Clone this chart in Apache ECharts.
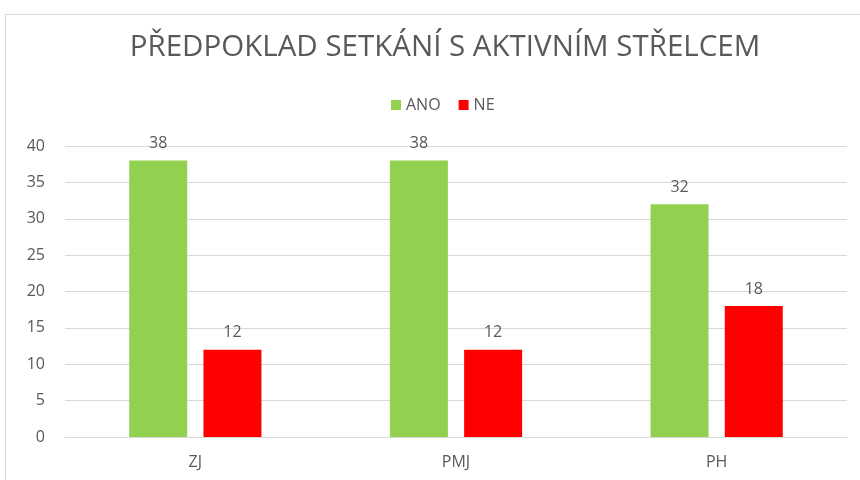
<!DOCTYPE html>
<html>
<head>
<meta charset="utf-8">
<script src="https://cdn.jsdelivr.net/npm/echarts@6/dist/echarts.min.js"></script>
<style>
  html, body { margin: 0; padding: 0; background: #fff; }
  #chart { width: 860px; height: 480px; }
</style>
</head>
<body>
<div id="chart"></div>
<script>
const categories = ['ZJ', 'PMJ', 'PH']
const anoValues = [38, 38, 32]
const neValues = [12, 12, 18]
const yTicks = { min: 0, max: 40, interval: 5 }

const chart = echarts.init(document.getElementById('chart'))
const font = '"Open Sans", "Noto Sans", sans-serif'
const textColor = '#595959'

const labelStyle = { show: true, position: 'top', distance: 9, color: textColor, fontSize: 16, fontFamily: font }

chart.setOption({
  animation: false,
  textStyle: { fontFamily: font },
  graphic: [{
    type: 'rect',
    shape: { x: 5.5, y: 14.5, width: 870, height: 480 },
    style: { fill: 'none', stroke: '#d9d9d9', lineWidth: 1 },
    silent: true
  }],
  title: {
    text: 'PŘEDPOKLAD SETKÁNÍ S AKTIVNÍM STŘELCEM',
    left: 440,
    textAlign: 'center',
    top: 28,
    textStyle: { color: textColor, fontSize: 29.5, fontWeight: 'normal', fontFamily: font }
  },
  legend: {
    top: 92,
    left: 386,
    itemWidth: 10,
    itemHeight: 10,
    itemGap: 18,
    icon: 'rect',
    textStyle: { color: textColor, fontSize: 16, fontFamily: font },
    data: ['ANO', 'NE']
  },
  grid: { left: 65, right: 13, top: 146, bottom: 43 },
  xAxis: {
    type: 'category',
    data: categories,
    axisLine: { lineStyle: { color: '#d9d9d9' } },
    axisTick: { show: false },
    axisLabel: { color: textColor, fontSize: 16, margin: 17, fontFamily: font }
  },
  yAxis: {
    type: 'value',
    min: yTicks.min,
    max: yTicks.max,
    interval: yTicks.interval,
    axisLine: { show: false },
    axisTick: { show: false },
    splitLine: { lineStyle: { color: '#d9d9d9' } },
    axisLabel: { color: textColor, fontSize: 16, margin: 20, fontFamily: font }
  },
  series: [
    {
      name: 'ANO',
      type: 'bar',
      data: anoValues,
      barWidth: 58,
      barGap: '28%',
      itemStyle: { color: '#92d050' },
      label: labelStyle
    },
    {
      name: 'NE',
      type: 'bar',
      data: neValues,
      barWidth: 58,
      itemStyle: { color: '#ff0000' },
      label: labelStyle
    }
  ]
})
</script>
</body>
</html>
